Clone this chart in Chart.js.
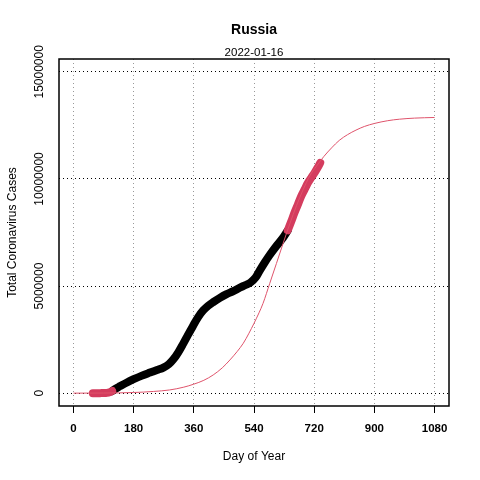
<!DOCTYPE html>
<html>
<head>
<meta charset="utf-8">
<script src="https://cdn.jsdelivr.net/npm/chart.js@4"></script>
<style>
  html, body { margin: 0; padding: 0; background: #fff; }
  canvas { display: block; }
</style>
</head>
<body>
<canvas id="myChart" width="480" height="480"></canvas>
<script>
const country = 'Russia';
const dateLabel = '2022-01-16';

const xTicks = [0, 180, 360, 540, 720, 900, 1080];
const yTicks = [0, 5000000, 10000000, 15000000];

// logistic fit (thin line)
const fitDays = [0, 90, 180, 240, 288, 330, 360, 390, 418, 445, 468, 490, 508, 525, 540, 555, 567, 587, 607, 627, 647, 667, 687, 707, 727, 749, 772, 795, 820, 845, 870, 900, 940, 975, 1020, 1080];
const fitCases = [0, 5000, 30000, 80000, 150000, 280000, 420000, 600000, 850000, 1180000, 1550000, 1950000, 2330000, 2800000, 3260000, 3750000, 4190000, 5120000, 6050000, 6990000, 7900000, 8750000, 9500000, 10150000, 10600000, 11050000, 11450000, 11800000, 12070000, 12280000, 12450000, 12590000, 12720000, 12790000, 12840000, 12870000];

// observed cases
const earlyDays = [58, 70, 80, 90, 100, 108, 116];
const earlyCases = [0, 0, 1000, 3000, 12000, 40000, 100000];

const midDays = [116, 124, 140, 160, 180, 205, 229, 250, 269, 285, 299, 314, 328, 343, 358, 373, 388, 403, 418, 438, 458, 478, 497, 515, 530, 545, 557, 572, 587, 607, 627, 641];
const midCases = [100000, 190000, 330000, 500000, 650000, 820000, 960000, 1080000, 1190000, 1350000, 1580000, 1920000, 2300000, 2730000, 3150000, 3550000, 3860000, 4080000, 4250000, 4450000, 4620000, 4760000, 4920000, 5050000, 5170000, 5400000, 5720000, 6100000, 6450000, 6870000, 7260000, 7600000];

const lateDays = [641, 651, 661, 671, 681, 691, 701, 711, 721, 730, 738];
const lateCases = [7600000, 8000000, 8420000, 8800000, 9190000, 9500000, 9810000, 10050000, 10280000, 10520000, 10750000];

const red = '#DF536B';
const darkRed = '#D43C5E';
const fontName = '"Liberation Sans", Arial, Helvetica, sans-serif';

const toPoints = (xs, ys) => xs.map((x, i) => ({ x: x, y: ys[i] }));

const thick = (data, color) => ({
  data: data,
  borderColor: color,
  backgroundColor: color,
  borderWidth: 8,
  borderCapStyle: 'round',
  borderJoinStyle: 'round',
  pointRadius: 0,
  cubicInterpolationMode: 'monotone',
});

const textPlugin = {
  id: 'textPlugin',
  afterDraw(chart) {
    const ctx = chart.ctx;
    const area = chart.chartArea;
    const yScale = chart.scales.y;
    const cx = (area.left + area.right) / 2;
    ctx.save();
    ctx.strokeStyle = '#000';
    ctx.lineWidth = 1.5;
    ctx.strokeRect(area.left, area.top, area.right - area.left, area.bottom - area.top);

    ctx.fillStyle = '#000';
    ctx.textAlign = 'center';
    ctx.textBaseline = 'middle';
    ctx.font = 'bold 14px ' + fontName;
    ctx.fillText(country, cx, 30);
    ctx.font = '11.5px ' + fontName;
    ctx.fillText(dateLabel, cx, 53);
    ctx.font = '12px ' + fontName;
    ctx.fillText('Day of Year', cx, 457);

    ctx.save();
    ctx.translate(13, (area.top + area.bottom) / 2);
    ctx.rotate(-Math.PI / 2);
    ctx.fillText('Total Coronavirus Cases', 0, 0);
    ctx.restore();

    for (const v of yTicks) {
      ctx.save();
      ctx.translate(39.5, yScale.getPixelForValue(v));
      ctx.rotate(-Math.PI / 2);
      ctx.fillText(String(v), 0, 0);
      ctx.restore();
    }
    ctx.restore();
  },
};

const ctx = document.getElementById('myChart');

var chart = new Chart(ctx, { // eslint-disable-line no-unused-vars
  type: 'line',
  data: {
    datasets: [
      {
        data: toPoints(fitDays, fitCases),
        borderColor: red,
        borderWidth: 1,
        pointRadius: 0,
        cubicInterpolationMode: 'monotone',
      },
      thick(toPoints(earlyDays, earlyCases), darkRed),
      thick(toPoints(lateDays, lateCases), darkRed),
      thick(toPoints(midDays, midCases), '#000'),
    ],
  },
  options: {
    responsive: false,
    animation: false,
    layout: {
      padding: { top: 59, right: 31, left: 0, bottom: 0 },
    },
    plugins: {
      legend: { display: false },
      tooltip: { enabled: false },
      title: { display: false },
    },
    scales: {
      x: {
        type: 'linear',
        min: -43.2,
        max: 1123.2,
        afterBuildTicks: (scale) => {
          scale.ticks = xTicks.map((v) => ({ value: v }));
        },
        afterFit: (scale) => {
          scale.height = 74;
        },
        border: { display: false, dash: [1, 3] },
        grid: {
          color: '#999',
          tickColor: '#000',
          tickLength: 7,
          tickBorderDash: [],
          tickWidth: 1,
        },
        ticks: {
          color: '#000',
          padding: 9,
          maxRotation: 0,
          autoSkip: false,
          font: { family: fontName, size: 11.5, weight: 'bold' },
          callback: (value) => String(value),
        },
      },
      y: {
        type: 'linear',
        min: -600000,
        max: 15600000,
        afterBuildTicks: (scale) => {
          scale.ticks = yTicks.map((v) => ({ value: v }));
        },
        afterFit: (scale) => {
          scale.width = 59;
        },
        border: { display: false, dash: [1, 3] },
        grid: {
          color: '#000',
          drawTicks: false,
        },
        ticks: { display: false },
      },
    },
  },
  plugins: [textPlugin],
});
</script>
</body>
</html>
